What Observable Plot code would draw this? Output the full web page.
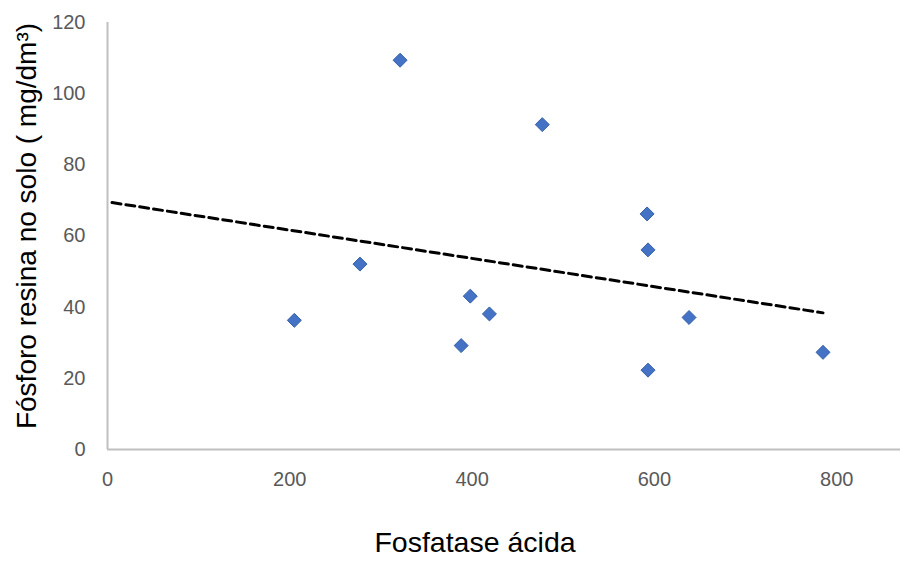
<!DOCTYPE html>
<html>
<head>
<meta charset="utf-8">
<script src="https://cdn.jsdelivr.net/npm/d3@7"></script>
<script src="https://cdn.jsdelivr.net/npm/@observablehq/plot@0.6"></script>
<style>
  html, body { margin: 0; padding: 0; background: #fff; }
  svg { display: block; }
</style>
</head>
<body>
<div id="chart"></div>
<script>
// Data
const fosfatase = [205, 277, 321, 388, 398, 419, 477, 592, 593, 593, 638, 785];
const fosforo   = [36.3, 52.1, 109.4, 29.2, 43.1, 38.1, 91.3, 66.2, 56.1, 22.3, 37.1, 27.3];

// Linear trend line endpoints
const trendX = [5, 785];
const trendY = [69.4, 38.4];

const xTicks = [0, 200, 400, 600, 800];
const yTicks = [0, 20, 40, 60, 80, 100, 120];

const xTitle = "Fosfatase ácida";
const yTitle = "Fósforo resina no solo ( mg/dm³)";

const points = fosfatase.map((x, i) => ({x, y: fosforo[i]}));
const trend = trendX.map((x, i) => ({x, y: trendY[i]}));

const font = "'Liberation Sans', Arial, sans-serif";

const chart = Plot.plot({
  width: 901,
  height: 561,
  marginLeft: 107,
  marginRight: 1,
  marginTop: 22,
  marginBottom: 112,
  style: {fontFamily: font, background: "#fff"},
  x: {domain: [0, 870], ticks: xTicks},
  y: {domain: [0, 120], ticks: yTicks},
  marks: [
    Plot.ruleX([0], {y1: 0, y2: 120, stroke: "#bfbfbf", strokeWidth: 2}),
    Plot.ruleY([0], {stroke: "#bfbfbf", strokeWidth: 2}),
    Plot.axisX(xTicks, {tickSize: 0, tickPadding: 22, fontSize: 20, fill: "#595959", label: null}),
    Plot.axisY(yTicks, {tickSize: 0, tickPadding: 22, fontSize: 20, fill: "#595959", label: null}),
    Plot.line(trend, {x: "x", y: "y", stroke: "#000", strokeWidth: 3, strokeDasharray: "9,5"}),
    Plot.dot(points, {x: "x", y: "y", symbol: "diamond2", r: 6.3, fill: "#4472C4", stroke: "#3560a8", strokeWidth: 1}),
    Plot.text([xTitle], {frameAnchor: "bottom", textAnchor: "middle", lineAnchor: "middle", dx: -29, dy: 93, fontSize: 28.5, fill: "#000"}),
    Plot.text([yTitle], {frameAnchor: "left", textAnchor: "middle", lineAnchor: "middle", rotate: -90, dx: -80, dy: -10, fontSize: 28, fill: "#000"})
  ]
});

document.getElementById("chart").appendChild(chart);
</script>
</body>
</html>
